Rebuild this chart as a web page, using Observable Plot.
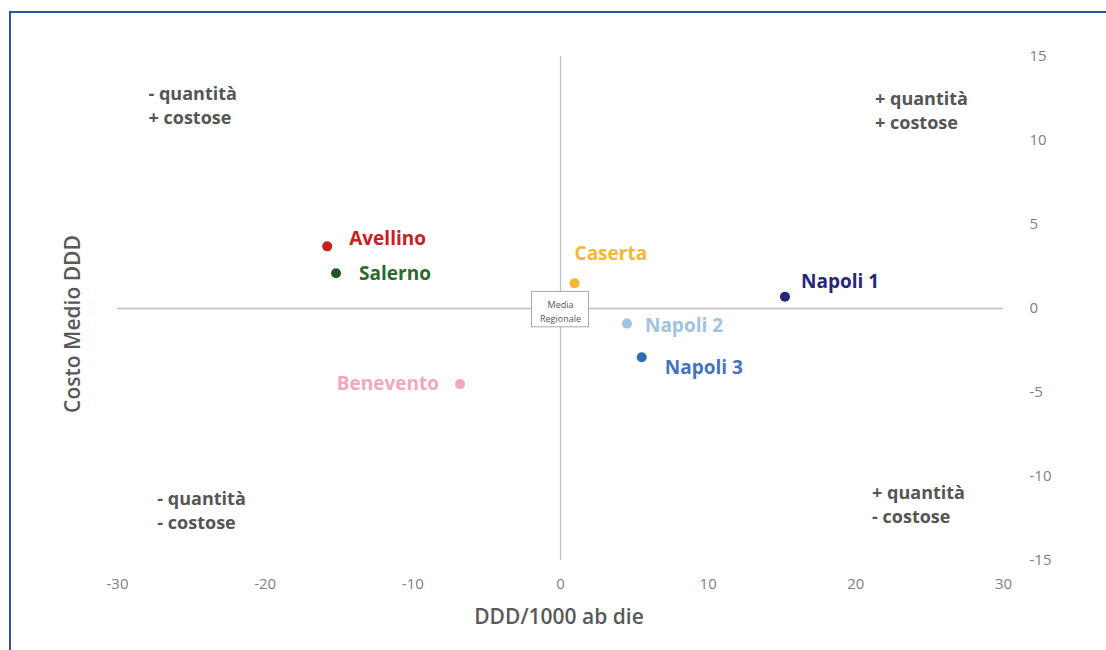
<!DOCTYPE html>
<html>
<head>
<meta charset="utf-8">
<script src="https://cdn.jsdelivr.net/npm/d3@7"></script>
<script src="https://cdn.jsdelivr.net/npm/@observablehq/plot@0.6"></script>
<style>
  html, body { margin: 0; padding: 0; background: #fff; }
  #wrap { position: relative; width: 1106px; height: 650px; overflow: hidden; }
  #frame { position: absolute; left: 9px; top: 11px; width: 1200px; height: 800px;
           border-left: 2px solid #2f5597; border-top: 2px solid #2f5597; box-sizing: border-box; }
  #chart { position: absolute; left: 0; top: 0; }
</style>
</head>
<body>
<div id="wrap"><div id="frame"></div><div id="chart"></div></div>
<script>
// Data
const names  = ["Avellino", "Salerno", "Caserta", "Napoli 1", "Napoli 2", "Napoli 3", "Benevento"];
const dddX   = [-15.8, -15.2, 0.95, 15.2, 4.5, 5.5, -6.8];
const costoY = [3.7, 2.1, 1.5, 0.7, -0.9, -2.9, -4.5];
const colors = ["#c8201e", "#1e5c1e", "#f5b731", "#262680", "#9dc3e6", "#2e6db3", "#f2a7bf"];
const labelColors = ["#c8201e", "#2a6a2a", "#f5b731", "#262680", "#9dc3e6", "#4472c4", "#f2a7bf"];
const xTicks = [-30, -20, -10, 0, 10, 20, 30];
const yTicks = [15, 10, 5, 0, -5, -10, -15];
const quadrantText = ["- quantità\n+ costose", "+ quantità\n+ costose", "- quantità\n- costose", "+ quantità\n- costose"];
const quadrantX = [-27.9, 21.3, -27.3, 21.1];
const quadrantY = [12.15, 11.85, -11.95, -11.6];

// label offsets (styles)
const labelStyle = {
  "Avellino":  {dx: 22, dy: -7, anchor: "start"},
  "Salerno":   {dx: 23, dy: 1, anchor: "start"},
  "Caserta":   {dx: 0, dy: -29, anchor: "start"},
  "Napoli 1":  {dx: 16, dy: -15, anchor: "start"},
  "Napoli 2":  {dx: 18, dy: 2, anchor: "start"},
  "Napoli 3":  {dx: 23, dy: 11, anchor: "start"},
  "Benevento": {dx: -21, dy: 0, anchor: "end"}
};

const data = names.map((n, i) => ({name: n, x: dddX[i], y: costoY[i], color: colors[i], lcolor: labelColors[i]}));
const quads = quadrantText.map((t, i) => ({t, x: quadrantX[i], y: quadrantY[i]}));

const font = "'Open Sans', sans-serif";
const fmt = d => String(d);

const labelMarks = data.map(d => Plot.text([d], {
  x: "x", y: "y", text: "name", fill: d.lcolor,
  dx: labelStyle[d.name].dx, dy: labelStyle[d.name].dy,
  textAnchor: labelStyle[d.name].anchor,
  fontSize: 19, fontWeight: "bold", fontFamily: font
}));

const chart = Plot.plot({
  width: 1106,
  height: 650,
  marginLeft: 117,
  marginRight: 103,
  marginTop: 56,
  marginBottom: 90,
  style: {fontFamily: font, background: "transparent"},
  x: {domain: [-30, 30], ticks: xTicks, tickSize: 0, tickPadding: 18, label: null},
  y: {domain: [-15, 15], ticks: yTicks, tickSize: 0, tickPadding: 26, label: null},
  marks: [
    Plot.ruleY([0], {x1: -30, x2: 30, stroke: "#bfbfbf", strokeWidth: 1.3}),
    Plot.ruleX([0], {y1: -15, y2: 15, stroke: "#bfbfbf", strokeWidth: 1.3}),
    Plot.axisX({ticks: xTicks, tickFormat: fmt, tickSize: 0, tickPadding: 18, fill: "#7f7f7f", fontSize: 15, label: null}),
    Plot.axisY({anchor: "right", ticks: yTicks, tickFormat: fmt, tickSize: 0, tickPadding: 26, textAnchor: "start", fill: "#7f7f7f", fontSize: 15, label: null}),
    Plot.text(quads, {x: "x", y: "y", text: "t", textAnchor: "start", lineHeight: 1.33, fontSize: 18, fontWeight: "bold", fill: "#555555", fontFamily: font}),
    Plot.text(["Media\nRegionale"], {x: 0, y: 0, text: d => d, frameAnchor: "middle", dy: 2, fontSize: 9, lineHeight: 1.6, fill: "#555", className: "media"}),
    Plot.dot(data, {x: "x", y: "y", r: 5, fill: "color", stroke: "none"}),
    ...labelMarks
  ]
});

document.getElementById("chart").appendChild(chart);

// Box around Media Regionale
const svg = d3.select(chart);
const mg = svg.select("g.media");
if (!mg.empty()) {
  const bb = mg.node().getBBox();
  const padX = 8, padY = 4;
  svg.insert("rect", "g.media")
    .attr("x", bb.x - padX).attr("y", bb.y - padY)
    .attr("width", bb.width + 2 * padX).attr("height", bb.height + 2 * padY)
    .attr("fill", "#fff").attr("stroke", "#a6a6a6").attr("stroke-width", 1);
}

// Axis titles
svg.append("text")
  .attr("x", 559).attr("y", 624).attr("text-anchor", "middle")
  .attr("font-family", font).attr("font-size", 21).attr("font-weight", 600)
  .attr("fill", "#595959").text("DDD/1000 ab die");
svg.append("text")
  .attr("transform", "translate(80,324) rotate(-90)").attr("text-anchor", "middle")
  .attr("font-family", font).attr("font-size", 21).attr("font-weight", 600)
  .attr("fill", "#595959").text("Costo Medio DDD");
</script>
</body>
</html>
